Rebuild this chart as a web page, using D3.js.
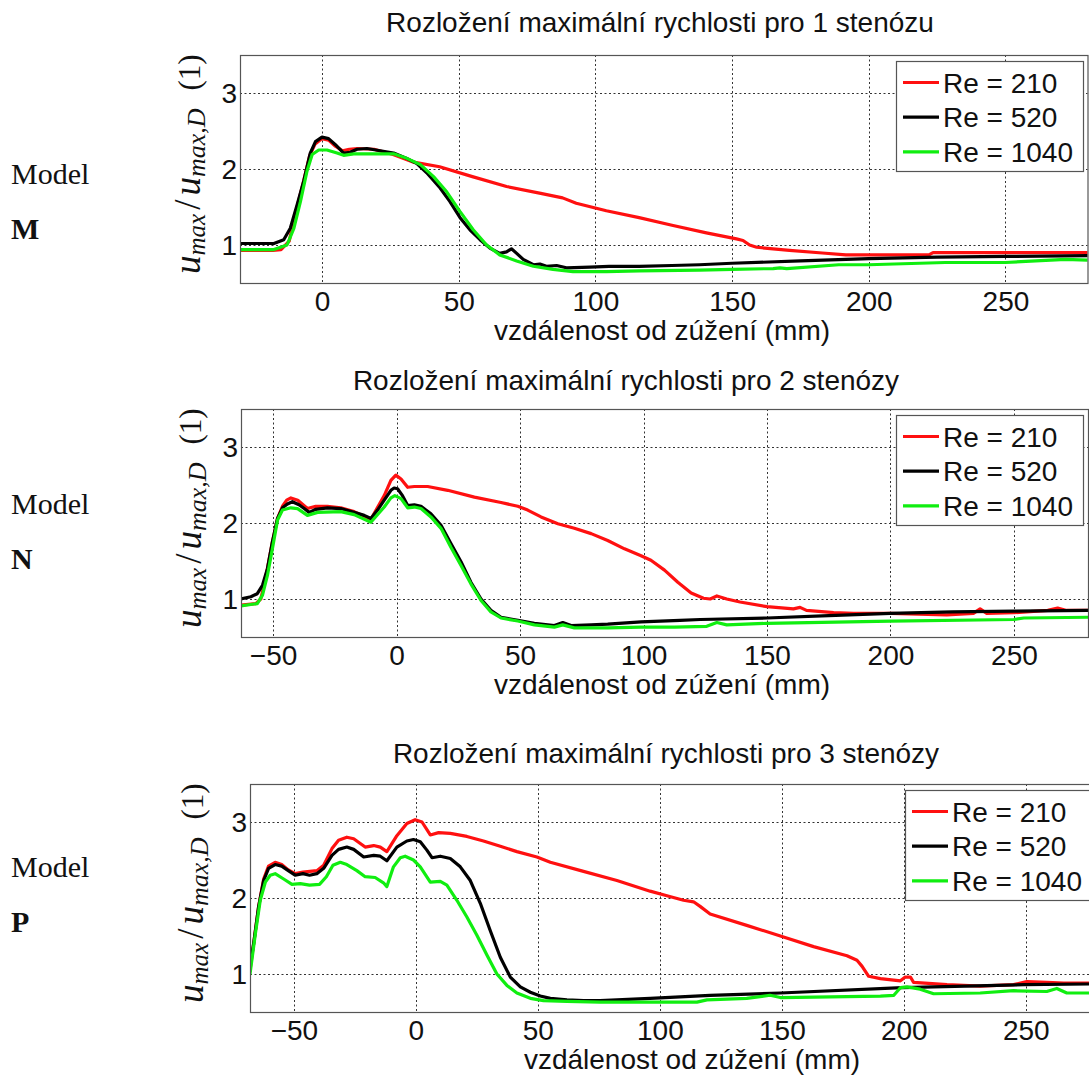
<!DOCTYPE html>
<html>
<head>
<meta charset="utf-8">
<script src="https://cdn.jsdelivr.net/npm/d3@7"></script>
<style>
  html, body { margin: 0; padding: 0; background: #fff; }
  svg { display: block; }
</style>
</head>
<body>
<div id="chart"></div>
<script>
// Maximum velocity ratio u_max/u_max,D along the vessel, three stenosis models.
const reynolds = ["Re = 210", "Re = 520", "Re = 1040"];
const seriesColors = ["#ff1010", "#000000", "#10ee10"];
const yTicks = [1, 2, 3];

// Model M — 1 stenosis  [distance (mm), u_max/u_max,D]
const modelM_210 = [[-30,0.93],[-18,0.93],[-15,0.94],[-12,1.05],[-9.5,1.45],[-7,1.80],[-4.5,2.18],[-2.5,2.33],[0,2.40],[2.4,2.38],[4.9,2.30],[7.5,2.24],[10,2.26],[13,2.27],[19,2.26],[26,2.19],[33.5,2.09],[43,2.03],[55,1.90],[67.5,1.77],[80,1.68],[88,1.62],[93,1.55],[104,1.45],[116,1.36],[128,1.26],[140.6,1.16],[151.6,1.08],[154,1.06],[156.4,1.0],[159,0.97],[171,0.93],[183,0.895],[191.6,0.87],[201,0.87],[222,0.87],[223.5,0.90],[238,0.90],[280,0.90]];
const modelM_520 = [[-30,1.02],[-17.6,1.02],[-14,1.07],[-11.6,1.22],[-9.1,1.53],[-6.7,1.84],[-4.3,2.21],[-2.4,2.36],[0,2.42],[2.4,2.40],[4.9,2.32],[7.9,2.21],[10.3,2.22],[12.8,2.26],[16.4,2.27],[21.3,2.24],[26.2,2.21],[31,2.14],[34.7,2.07],[38.3,1.95],[43.2,1.75],[46.8,1.57],[50.5,1.36],[54.1,1.20],[57.8,1.07],[61.4,0.96],[65,0.89],[67.5,0.91],[69.3,0.95],[71.2,0.89],[73.6,0.81],[77.3,0.74],[79.7,0.75],[82.1,0.72],[85.8,0.73],[89.4,0.70],[98,0.71],[105,0.72],[116,0.72],[128,0.73],[138,0.74],[150,0.76],[175,0.79],[200,0.82],[225,0.84],[250,0.85],[280,0.86]];
const modelM_1040 = [[-30,0.94],[-17.6,0.94],[-12.8,1.0],[-10.3,1.22],[-7.9,1.57],[-5.5,1.97],[-3.6,2.19],[-1.2,2.25],[1.8,2.25],[5.5,2.21],[7.9,2.18],[11.6,2.20],[18.9,2.20],[26.2,2.20],[31,2.14],[35.9,2.06],[40.8,1.90],[45.6,1.70],[50.5,1.44],[55.3,1.20],[60.2,1.0],[65,0.87],[71.2,0.79],[77.3,0.72],[84.5,0.68],[91.8,0.65],[104,0.65],[116,0.66],[138,0.67],[150,0.68],[165,0.69],[167.5,0.70],[170,0.69],[189,0.74],[200,0.74],[228,0.77],[250,0.77],[272,0.81],[280,0.80]];

// Model N — 2 stenoses
const modelN_210 = [[-63,0.92],[-57,0.94],[-55,1.0],[-53.5,1.2],[-52.3,1.40],[-50.3,1.75],[-48.2,2.06],[-46.2,2.22],[-44.5,2.30],[-42.8,2.33],[-40,2.30],[-36.1,2.19],[-32.7,2.22],[-28,2.22],[-22.6,2.20],[-17.2,2.15],[-10.4,2.05],[-5,2.36],[-2.3,2.56],[-0.3,2.63],[1.8,2.58],[4.5,2.47],[7.2,2.48],[12.6,2.48],[20.7,2.43],[31.5,2.34],[42.3,2.27],[49.1,2.22],[53.1,2.17],[58.5,2.08],[65.3,1.99],[72,1.93],[78.8,1.86],[85.5,1.77],[92.3,1.66],[99,1.57],[103,1.51],[108.5,1.38],[113.9,1.22],[119.3,1.08],[124.3,1.01],[127,1.0],[129.7,1.04],[133.7,1.0],[139.1,0.96],[150,0.90],[160.7,0.87],[163.4,0.89],[166,0.85],[177,0.82],[185,0.81],[200,0.81],[222.8,0.79],[233.6,0.81],[236.3,0.87],[239,0.81],[250,0.82],[263.7,0.85],[267.7,0.88],[271,0.85],[280,0.85]];
const modelN_520 = [[-63,1.0],[-59,1.03],[-56.4,1.07],[-54.3,1.18],[-52.3,1.40],[-50.3,1.75],[-48.2,2.06],[-46.2,2.20],[-44.2,2.25],[-42.2,2.28],[-39.5,2.24],[-37.4,2.19],[-35.4,2.14],[-32.7,2.18],[-28,2.20],[-22.6,2.19],[-17.2,2.14],[-13.1,2.10],[-10.4,2.06],[-7.7,2.17],[-5,2.30],[-2.3,2.43],[-1,2.46],[0.4,2.45],[2.4,2.36],[4.5,2.23],[7.2,2.24],[9.9,2.22],[13.9,2.12],[18,1.97],[22,1.73],[26.1,1.49],[30.1,1.22],[34.2,1.0],[38.2,0.85],[42.3,0.76],[49.1,0.72],[55.8,0.68],[63.9,0.65],[67.3,0.69],[70.7,0.65],[78.8,0.66],[85.5,0.67],[99,0.70],[114.8,0.72],[123,0.73],[150,0.75],[175,0.78],[200,0.81],[225,0.83],[250,0.84],[280,0.85]];
const modelN_1040 = [[-63,0.91],[-56.4,0.94],[-54.3,1.05],[-52.3,1.31],[-50.3,1.66],[-48.2,2.04],[-46.2,2.17],[-42.8,2.20],[-40.1,2.19],[-36.1,2.10],[-32,2.14],[-22.6,2.15],[-17.2,2.11],[-10.4,2.01],[-5,2.21],[-2.3,2.33],[-0.7,2.36],[1.8,2.32],[4.5,2.20],[7.2,2.21],[9.9,2.19],[13.9,2.08],[18,1.93],[22,1.68],[26.1,1.44],[30.1,1.20],[34.2,0.98],[38.2,0.83],[42.3,0.75],[49.1,0.71],[55.8,0.66],[63.9,0.63],[67.3,0.66],[72,0.62],[85.5,0.62],[99,0.63],[112.5,0.63],[125.6,0.64],[129.7,0.69],[133.7,0.66],[150,0.68],[200,0.71],[250,0.73],[254,0.75],[280,0.76]];

// Model P — 3 stenoses
const modelP_210 = [[-68,1.05],[-66.5,1.40],[-64.5,1.88],[-62.4,2.25],[-60.4,2.42],[-57.7,2.47],[-55,2.44],[-52.3,2.37],[-49.5,2.32],[-46.3,2.34],[-40.6,2.36],[-37.8,2.43],[-34.4,2.65],[-31.7,2.76],[-28.3,2.80],[-25.5,2.78],[-20.8,2.67],[-17.3,2.69],[-14.6,2.67],[-11.9,2.61],[-7.8,2.82],[-3.7,2.98],[-0.3,3.03],[2.5,3.0],[5.9,2.83],[9.3,2.86],[14.1,2.85],[20.9,2.81],[27.7,2.75],[34.6,2.68],[41.4,2.61],[49.6,2.54],[55.1,2.47],[68.7,2.35],[82.4,2.23],[96,2.09],[102.9,2.03],[109.7,1.97],[113.8,1.95],[116.5,1.89],[120.6,1.79],[135.6,1.64],[149.4,1.50],[163,1.36],[176.7,1.24],[180.8,1.18],[182.9,1.10],[185.6,0.97],[190.4,0.94],[198.6,0.91],[200.6,0.96],[202.7,0.96],[204,0.89],[217.7,0.86],[231.3,0.84],[245,0.86],[250.4,0.90],[258.6,0.89],[265.5,0.88],[280,0.88]];
const modelP_520 = [[-68,1.1],[-66.5,1.40],[-64.5,1.88],[-62.4,2.23],[-60.4,2.39],[-57.7,2.44],[-55,2.42],[-52.3,2.36],[-49.5,2.30],[-46.3,2.32],[-43.6,2.30],[-40.6,2.32],[-37.8,2.39],[-34.4,2.56],[-31.7,2.64],[-28.3,2.67],[-25.5,2.64],[-21.4,2.54],[-17.3,2.56],[-14.6,2.55],[-11.9,2.49],[-7.8,2.67],[-3.7,2.75],[-1,2.77],[1.8,2.74],[4.5,2.63],[6.6,2.53],[10,2.55],[14.1,2.52],[18.2,2.41],[22.3,2.23],[26.4,1.93],[30.5,1.57],[34.6,1.22],[38.7,0.96],[42.8,0.83],[46.9,0.76],[51,0.71],[55.1,0.68],[61.9,0.66],[68.7,0.65],[75.5,0.65],[82.4,0.66],[96,0.68],[108.3,0.70],[120.6,0.72],[149.4,0.75],[199.4,0.82],[249.3,0.86],[280,0.87]];
const modelP_1040 = [[-68,1.0],[-65.8,1.53],[-63.8,1.97],[-61.7,2.21],[-59.7,2.30],[-57.7,2.32],[-54.2,2.25],[-50.8,2.18],[-47.4,2.19],[-43.6,2.17],[-39.5,2.18],[-36.7,2.28],[-34,2.43],[-31,2.47],[-28.3,2.44],[-24.2,2.36],[-20.8,2.28],[-16.7,2.27],[-13.3,2.20],[-11.9,2.15],[-9.2,2.41],[-6.4,2.53],[-4.4,2.55],[-1,2.50],[1.8,2.41],[5.9,2.21],[10,2.22],[12.7,2.17],[16.8,1.97],[20.9,1.75],[25,1.51],[29.1,1.25],[33.2,1.0],[37.3,0.85],[41.4,0.75],[46.9,0.68],[52.3,0.65],[61.9,0.64],[75.5,0.63],[89.2,0.63],[102.9,0.63],[115.2,0.63],[119.3,0.66],[135.6,0.68],[145.2,0.72],[149.4,0.69],[169.9,0.70],[190.4,0.71],[195.9,0.72],[198.6,0.82],[201.3,0.83],[206.7,0.80],[212.2,0.74],[231.3,0.75],[245,0.78],[258.6,0.77],[262.7,0.81],[266.8,0.75],[280,0.75]];

const xTicksM = [0, 50, 100, 150, 200, 250];
const xTicksNP = [-50, 0, 50, 100, 150, 200, 250];
const titles = [
  "Rozložení maximální rychlosti pro 1 stenózu",
  "Rozložení maximální rychlosti pro 2 stenózy",
  "Rozložení maximální rychlosti pro 3 stenózy"
];
const xLabel = "vzdálenost od zúžení (mm)";
const modelNames = ["M", "N", "P"];

// Panel geometry (pixels)
const panels = [
  { series: [modelM_210, modelM_520, modelM_1040], xDomain: [-30, 280], xTicks: xTicksM,
    left: 240, right: 1087.5, top: 55, bottom: 283, titleX: 660, titleY: 32, xLabelX: 662,
    legendX: 896, ylabX: 200, modelY: 184 },
  { series: [modelN_210, modelN_520, modelN_1040], xDomain: [-63, 280], xTicks: xTicksNP,
    left: 241, right: 1088, top: 409, bottom: 637, titleX: 626, titleY: 390, xLabelX: 662,
    legendX: 896, ylabX: 201, modelY: 514 },
  { series: [modelP_210, modelP_520, modelP_1040], xDomain: [-68, 280], xTicks: xTicksNP,
    left: 250, right: 1099, top: 784, bottom: 1012, titleX: 666, titleY: 763, xLabelX: 692,
    legendX: 905, ylabX: 203, modelY: 877 }
];

const W = 1089, H = 1075;
const sans = "'Liberation Sans', Arial, sans-serif";
const serif = "'Liberation Serif', 'Times New Roman', serif";

const svg = d3.select("#chart").append("svg")
  .attr("width", W).attr("height", H)
  .attr("viewBox", `0 0 ${W} ${H}`);

panels.forEach((p, i) => {
  const x = d3.scaleLinear().domain(p.xDomain).range([p.left, p.right]);
  const y = d3.scaleLinear().domain([0.5, 3.5]).range([p.bottom, p.top]);
  const g = svg.append("g");

  // white plot area
  g.append("rect").attr("x", p.left).attr("y", p.top)
    .attr("width", p.right - p.left).attr("height", p.bottom - p.top)
    .attr("fill", "#fff");

  // dotted grid
  const snap = v => Math.round(v) + 0.5;
  g.append("g").selectAll("line").data(p.xTicks).join("line")
    .attr("x1", d => snap(x(d))).attr("x2", d => snap(x(d)))
    .attr("y1", p.top).attr("y2", p.bottom)
    .attr("stroke", "#333").attr("stroke-width", 1)
    .attr("stroke-dasharray", "2,2.5");
  g.append("g").selectAll("line").data(yTicks).join("line")
    .attr("x1", p.left).attr("x2", p.right)
    .attr("y1", d => snap(y(d))).attr("y2", d => snap(y(d)))
    .attr("stroke", "#333").attr("stroke-width", 1)
    .attr("stroke-dasharray", "2,2.5");

  // data lines, clipped to the axes box
  const clipId = "clip" + i;
  svg.append("clipPath").attr("id", clipId).append("rect")
    .attr("x", p.left).attr("y", p.top)
    .attr("width", p.right - p.left).attr("height", p.bottom - p.top);
  const line = d3.line().x(d => x(d[0])).y(d => y(d[1])).curve(d3.curveLinear);
  g.append("g").attr("clip-path", `url(#${clipId})`)
    .selectAll("path").data(p.series).join("path")
    .attr("d", line)
    .attr("fill", "none")
    .attr("stroke", (d, k) => seriesColors[k])
    .attr("stroke-width", 3.2)
    .attr("stroke-linejoin", "round")
    .attr("stroke-linecap", "round");

  // axes box
  g.append("rect").attr("x", p.left + 0.5).attr("y", p.top + 0.5)
    .attr("width", p.right - p.left).attr("height", p.bottom - p.top)
    .attr("fill", "none").attr("stroke", "#555").attr("stroke-width", 1.2);

  // tick labels via d3 axes (lines hidden, only text kept)
  const xAxis = g.append("g").attr("transform", `translate(0,${p.bottom})`)
    .call(d3.axisBottom(x).tickValues(p.xTicks).tickSize(0).tickPadding(0).tickFormat(d3.format("d")));
  xAxis.select(".domain").remove();
  xAxis.selectAll("text").attr("font-family", sans).attr("font-size", 28)
    .attr("fill", "#111").attr("dy", 0).attr("y", 28);

  const yAxis = g.append("g").attr("transform", `translate(${p.left},0)`)
    .call(d3.axisLeft(y).tickValues(yTicks).tickSize(0).tickPadding(0).tickFormat(d3.format("d")));
  yAxis.select(".domain").remove();
  yAxis.selectAll("text").attr("font-family", sans).attr("font-size", 28)
    .attr("fill", "#111").attr("x", -3).attr("dy", "0.35em");

  // title and x label
  g.append("text").attr("x", p.titleX).attr("y", p.titleY)
    .attr("text-anchor", "middle").attr("font-family", sans).attr("font-size", 28)
    .attr("fill", "#111").text(titles[i]);
  g.append("text").attr("x", p.xLabelX).attr("y", p.bottom + 57)
    .attr("text-anchor", "middle").attr("font-family", sans).attr("font-size", 28)
    .attr("fill", "#111").text(xLabel);

  // y label: u_max / u_max,D (1)
  const yl = g.append("text")
    .attr("transform", `translate(${p.ylabX},${p.bottom - 9}) rotate(-90)`)
    .attr("font-family", serif).attr("fill", "#111");
  yl.append("tspan").attr("font-style", "italic").attr("font-size", 37).text("u");
  yl.append("tspan").attr("font-style", "italic").attr("font-size", 25).attr("dy", 5).text("max");
  yl.append("tspan").attr("font-size", 37).attr("dy", -5).attr("dx", 4).text("/");
  yl.append("tspan").attr("font-style", "italic").attr("font-size", 37).attr("dx", 4).text("u");
  yl.append("tspan").attr("font-style", "italic").attr("font-size", 26).attr("dy", 5).text("max,D");
  yl.append("tspan").attr("font-size", 31).attr("dy", -5).attr("dx", 18).text("(1)");

  // legend
  const lg = g.append("g").attr("transform", `translate(${p.legendX},${p.top + 6})`);
  lg.append("rect").attr("x", 0.5).attr("y", 0.5).attr("width", 187).attr("height", 110)
    .attr("fill", "#fff").attr("stroke", "#555").attr("stroke-width", 1.2);
  reynolds.forEach((r, k) => {
    const ry = 21.5 + k * 34.7;
    lg.append("line").attr("x1", 7).attr("x2", 43).attr("y1", ry).attr("y2", ry)
      .attr("stroke", seriesColors[k]).attr("stroke-width", 3.2);
    lg.append("text").attr("x", 47).attr("y", ry + 10)
      .attr("font-family", sans).attr("font-size", 28).attr("fill", "#111").text(r);
  });

  // model caption on the left
  svg.append("text").attr("x", 11).attr("y", p.modelY)
    .attr("font-family", serif).attr("font-size", 30).attr("fill", "#111").text("Model");
  svg.append("text").attr("x", 11).attr("y", p.modelY + 55)
    .attr("font-family", serif).attr("font-size", 30).attr("font-weight", "bold")
    .attr("fill", "#111").text(modelNames[i]);
});
</script>
</body>
</html>
